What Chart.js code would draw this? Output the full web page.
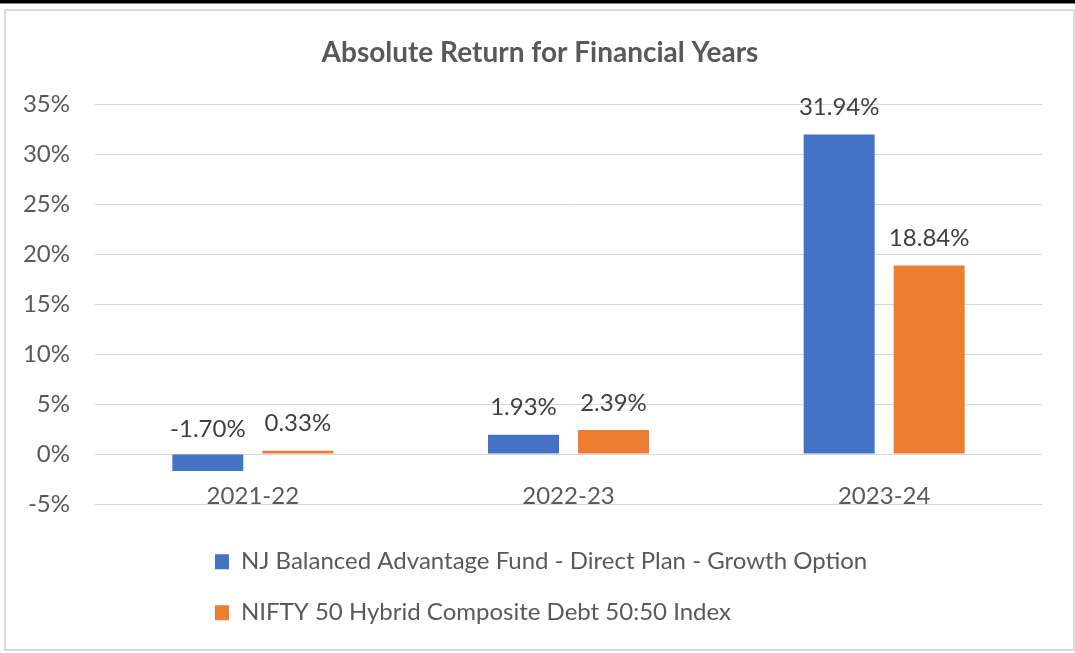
<!DOCTYPE html>
<html>
<head>
<meta charset="utf-8">
<script src="https://cdn.jsdelivr.net/npm/chart.js@4.4.1/dist/chart.umd.min.js"></script>
<style>
html, body { margin: 0; padding: 0; background: #ffffff; width: 1075px; height: 653px; overflow: hidden; }
#topline { position: absolute; left: 0; top: 0; width: 1075px; height: 3px; background: #000000; border-bottom: 1px solid #8a8a8a; }
#frame { position: absolute; left: 4px; top: 9px; width: 1067px; height: 638px; border: 2px solid #d9d9d9; }
#c { position: absolute; left: 0; top: 0; }
</style>
</head>
<body>
<div id="topline"></div>
<div id="frame"></div>
<canvas id="c" width="1075" height="653"></canvas>
<script>
// ---- data ----
const categories = ['2021-22', '2022-23', '2023-24'];
const seriesNames = [
  'NJ Balanced Advantage Fund - Direct Plan - Growth Option',
  'NIFTY 50 Hybrid Composite Debt 50:50 Index'
];
const fundReturns = [-1.70, 1.93, 31.94];
const indexReturns = [0.33, 2.39, 18.84];
const yMin = -5, yMax = 35, yStep = 5;

// ---- styling ----
const FONT = 'Lato';
const FS = 24;
const TEXT = '#595959';
const LABEL = '#404040';
const BLUE = '#4472C4';
const ORANGE = '#ED7D31';

const valueLabels = {
  id: 'valueLabels',
  afterDatasetsDraw(chart) {
    const ctx = chart.ctx;
    ctx.save();
    ctx.font = FS + 'px ' + FONT;
    ctx.fillStyle = LABEL;
    ctx.textAlign = 'center';
    ctx.textBaseline = 'alphabetic';
    chart.data.datasets.forEach((ds, di) => {
      const meta = chart.getDatasetMeta(di);
      meta.data.forEach((bar, i) => {
        const v = ds.data[i];
        const y = v >= 0 ? bar.y - 19.5 : bar.base - 18;
        ctx.fillText(v.toFixed(2) + '%', bar.x, y);
      });
    });
    ctx.restore();
  }
};

const boxPlacer = {
  id: 'boxPlacer',
  afterLayout(chart) {
    const lg = chart.legend;
    if (lg) {
      lg.left = 188;
      lg.right = 1042;
      lg.top = 522.7;
      lg.bottom = 720;
      lg.width = lg.right - lg.left;
      lg.height = lg.bottom - lg.top;
    }
    const tb = chart.titleBlock;
    if (tb) {
      tb.left = 0;
      tb.right = 1080;
      tb.width = 1080;
    }
  }
};

function start() {
  new Chart(document.getElementById('c'), {
    type: 'bar',
    data: {
      labels: categories,
      datasets: [
        { label: seriesNames[0], data: fundReturns, backgroundColor: BLUE, categoryPercentage: 0.5702, barPercentage: 0.789 },
        { label: seriesNames[1], data: indexReturns, backgroundColor: ORANGE, categoryPercentage: 0.5702, barPercentage: 0.789 }
      ]
    },
    options: {
      responsive: false,
      animation: false,
      layout: { padding: { left: 0, right: 33, top: 0, bottom: 149 } },
      plugins: {
        title: {
          display: true,
          text: 'Absolute Return for Financial Years',
          color: TEXT,
          font: { family: FONT, size: 28, weight: 'bold', lineHeight: 1.2 },
          padding: { top: 36, bottom: 34.4 }
        },
        legend: {
          position: 'chartArea',
          align: 'start',
          labels: {
            font: { family: FONT, size: FS },
            color: TEXT,
            boxWidth: 14,
            boxHeight: 15,
            padding: 27
          }
        },
        tooltip: { enabled: false }
      },
      scales: {
        x: {
          position: { y: 0 },
          grid: { display: false },
          border: { display: false },
          ticks: { font: { family: FONT, size: FS }, color: TEXT, padding: 20 },
          afterFit(s) { s.height = 0; }
        },
        y: {
          min: yMin,
          max: yMax,
          ticks: { stepSize: yStep, callback: v => v + '%', font: { family: FONT, size: FS }, color: TEXT, padding: 25 },
          grid: { color: '#d9d9d9', drawTicks: false },
          border: { display: false },
          afterFit(s) { s.width = 95; }
        }
      }
    },
    plugins: [valueLabels, boxPlacer]
  });
}

if (document.fonts && document.fonts.load) {
  Promise.all([document.fonts.load(FS + 'px Lato'), document.fonts.load('bold 28px Lato')]).then(start, start);
} else {
  start();
}
</script>
</body>
</html>
